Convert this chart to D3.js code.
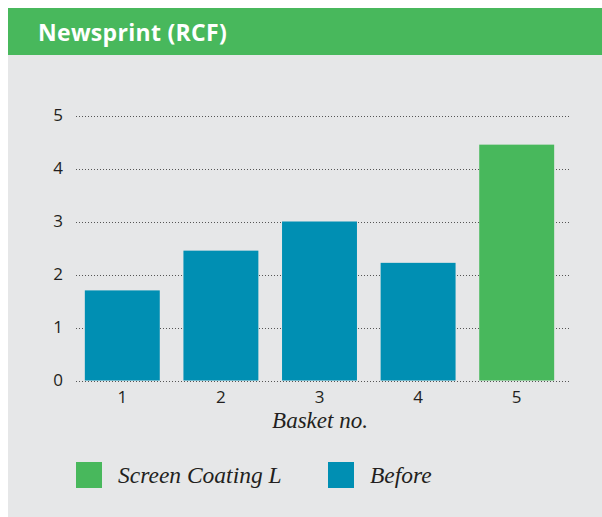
<!doctype html>
<html>
  <head>
    <meta charset="utf-8">
    <title>Newsprint (RCF)</title>
    <script src="https://cdnjs.cloudflare.com/ajax/libs/d3/7.8.5/d3.min.js"></script>
    <style>
      body { margin: 0; background: #fff; }
    </style>
  </head>
  <body>
    <div id="chart"></div>
    <script>
      // data
      const baskets = ['1', '2', '3', '4', '5'],
            values = [1.7, 2.45, 3.0, 2.22, 4.45],
            series = ['Before', 'Before', 'Before', 'Before', 'Screen Coating L'],
            yTicks = [0, 1, 2, 3, 4, 5],
            legendItems = ['Screen Coating L', 'Before'];

      const colors = { 'Screen Coating L': '#48b85c', 'Before': '#008fb3' };

      const svg = d3.select('#chart')
        .append('svg')
        .attr('width', 602)
        .attr('height', 517);

      // panel + header band
      svg.append('rect')
        .attr('x', 8).attr('y', 8)
        .attr('width', 594).attr('height', 509)
        .attr('fill', '#e6e7e8');
      svg.append('rect')
        .attr('x', 8).attr('y', 8)
        .attr('width', 594).attr('height', 47)
        .attr('fill', '#48b85c');
      svg.append('text')
        .attr('x', 38).attr('y', 41)
        .attr('fill', '#fff')
        .style('font-family', '"Open Sans", sans-serif')
        .style('font-weight', 'bold')
        .style('font-size', '23px')
        .style('letter-spacing', '0.3px')
        .text('Newsprint (RCF)');

      // scales
      const x = d3.scaleBand()
        .domain(baskets)
        .range([73, 566])
        .paddingInner(0.24)
        .paddingOuter(0.12);

      const y = d3.scaleLinear()
        .domain([0, 5])
        .range([380.5, 115.5]);

      // dotted gridlines
      svg.append('g')
        .selectAll('line')
        .data(yTicks)
        .join('line')
          .attr('x1', 76).attr('x2', 569)
          .attr('y1', d => Math.round(y(d)) + 0.5)
          .attr('y2', d => Math.round(y(d)) + 0.5)
          .attr('stroke', '#555')
          .attr('stroke-width', 1)
          .attr('stroke-dasharray', '1,2');

      // y tick labels
      svg.append('g')
        .selectAll('text')
        .data(yTicks)
        .join('text')
          .attr('x', 63)
          .attr('y', d => y(d) + 5)
          .attr('text-anchor', 'end')
          .attr('fill', '#231f20')
          .style('font-family', '"Open Sans", sans-serif')
          .style('font-size', '17px')
          .text(d => d);

      // bars
      svg.append('g')
        .selectAll('rect')
        .data(values)
        .join('rect')
          .attr('x', (d, i) => x(baskets[i]))
          .attr('y', d => y(d))
          .attr('width', x.bandwidth())
          .attr('height', d => y(0) - y(d))
          .attr('fill', (d, i) => colors[series[i]]);

      // x tick labels
      svg.append('g')
        .selectAll('text')
        .data(baskets)
        .join('text')
          .attr('x', d => x(d) + x.bandwidth() / 2)
          .attr('y', 403)
          .attr('text-anchor', 'middle')
          .attr('fill', '#231f20')
          .style('font-family', '"Open Sans", sans-serif')
          .style('font-size', '17px')
          .text(d => d);

      // axis title
      svg.append('text')
        .attr('x', 320).attr('y', 428)
        .attr('text-anchor', 'middle')
        .attr('fill', '#231f20')
        .style('font-family', '"Liberation Serif", serif')
        .style('font-style', 'italic')
        .style('font-size', '23px')
        .text('Basket no.');

      // legend
      const legendX = [76, 328];
      const legend = svg.append('g')
        .selectAll('g')
        .data(legendItems)
        .join('g')
          .attr('transform', (d, i) => `translate(${legendX[i]},462)`);
      legend.append('rect')
        .attr('width', 26).attr('height', 26)
        .attr('fill', d => colors[d]);
      legend.append('text')
        .attr('x', 42).attr('y', 21)
        .attr('fill', '#231f20')
        .style('font-family', '"Liberation Serif", serif')
        .style('font-style', 'italic')
        .style('font-size', '23.5px')
        .text(d => d);
    </script>
  </body>
</html>
